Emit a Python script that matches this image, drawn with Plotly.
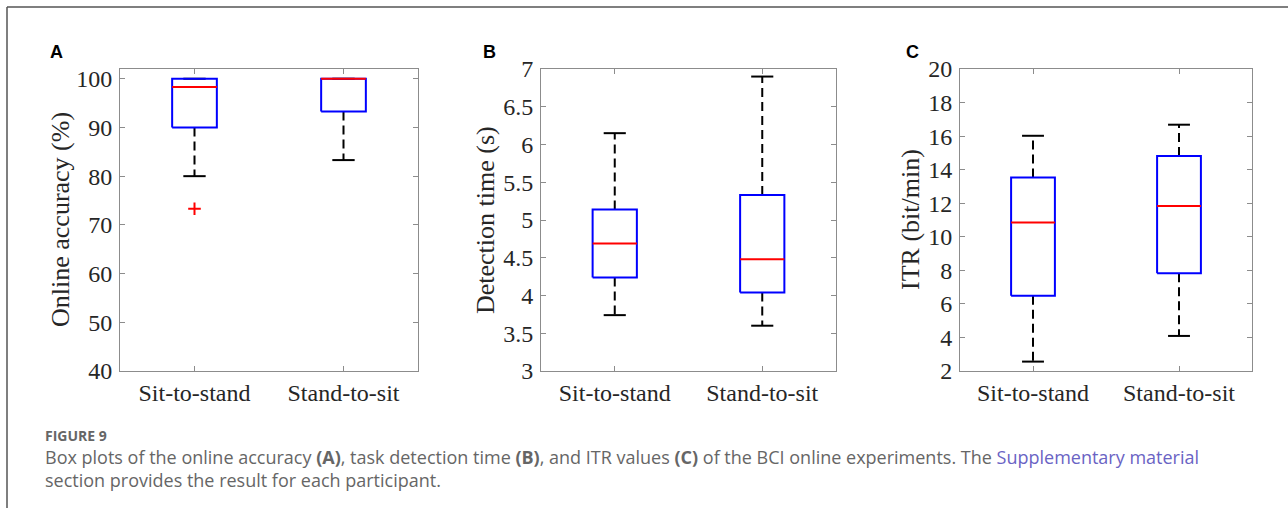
import plotly.graph_objects as go

# ---------------- data ----------------
categories = ["Sit-to-stand", "Stand-to-sit"]

acc_lower = [80.0, 83.3]
acc_q1 = [90.0, 93.3]
acc_median = [98.3, 100.0]
acc_q3 = [100.0, 100.0]
acc_upper = [100.0, 100.0]
acc_outliers = [[73.3], []]
acc_ticks = [40, 50, 60, 70, 80, 90, 100]

time_lower = [3.74, 3.60]
time_q1 = [4.24, 4.04]
time_median = [4.69, 4.48]
time_q3 = [5.14, 5.33]
time_upper = [6.15, 6.90]
time_outliers = [[], []]
time_ticks = [3, 3.5, 4, 4.5, 5, 5.5, 6, 6.5, 7]

itr_lower = [2.56, 4.09]
itr_q1 = [6.48, 7.83]
itr_median = [10.85, 11.83]
itr_q3 = [13.54, 14.81]
itr_upper = [16.02, 16.68]
itr_outliers = [[], []]
itr_ticks = [2, 4, 6, 8, 10, 12, 14, 16, 18, 20]

panel_letters = ["A", "B", "C"]
axis_titles = ["Online accuracy (%)", "Detection time (s)", "ITR (bit/min)"]

# ---------------- layout constants ----------------
W, H = 1288, 516
BOX_HALF = 0.15
CAP_HALF = 0.075
AXIS_GRAY = "#8c8c8c"
TEXT_DARK = "#262626"
SERIF = "Liberation Serif"

panels = [
    dict(lower=acc_lower, q1=acc_q1, med=acc_median, q3=acc_q3, upper=acc_upper,
         out=acc_outliers, ticks=acc_ticks, yr=[40, 102], px=(120, 418),
         title_x=60, letter_x=56),
    dict(lower=time_lower, q1=time_q1, med=time_median, q3=time_q3, upper=time_upper,
         out=time_outliers, ticks=time_ticks, yr=[3, 7], px=(541, 836),
         title_x=485, letter_x=489),
    dict(lower=itr_lower, q1=itr_q1, med=itr_median, q3=itr_q3, upper=itr_upper,
         out=itr_outliers, ticks=itr_ticks, yr=[2, 20], px=(960, 1252),
         title_x=910, letter_x=912),
]

TOP_PX, BOT_PX = 69, 371
ydom = [1 - BOT_PX / H, 1 - TOP_PX / H]

fig = go.Figure()
annotations = []

for k, p in enumerate(panels):
    xa = "x" if k == 0 else f"x{k+1}"
    ya = "y" if k == 0 else f"y{k+1}"
    pos = list(range(1, len(categories) + 1))

    # whiskers (dashed)
    wx, wy = [], []
    for i, c in enumerate(pos):
        if p["upper"][i] > p["q3"][i]:
            wx += [c, c, None]
            wy += [p["q3"][i], p["upper"][i], None]
        if p["lower"][i] < p["q1"][i]:
            wx += [c, c, None]
            wy += [p["q1"][i], p["lower"][i], None]
    fig.add_trace(go.Scatter(x=wx, y=wy, mode="lines", xaxis=xa, yaxis=ya,
                             line=dict(color="black", width=2, dash="9px,5px"),
                             hoverinfo="skip", showlegend=False))
    # caps
    cx, cy = [], []
    for i, c in enumerate(pos):
        for v in (p["upper"][i], p["lower"][i]):
            cx += [c - CAP_HALF, c + CAP_HALF, None]
            cy += [v, v, None]
    fig.add_trace(go.Scatter(x=cx, y=cy, mode="lines", xaxis=xa, yaxis=ya,
                             line=dict(color="black", width=2),
                             hoverinfo="skip", showlegend=False))
    # boxes
    bx, by = [], []
    for i, c in enumerate(pos):
        bx += [c - BOX_HALF, c + BOX_HALF, c + BOX_HALF, c - BOX_HALF, c - BOX_HALF, None]
        by += [p["q1"][i], p["q1"][i], p["q3"][i], p["q3"][i], p["q1"][i], None]
    fig.add_trace(go.Scatter(x=bx, y=by, mode="lines", xaxis=xa, yaxis=ya,
                             line=dict(color="#0000ff", width=2),
                             hoverinfo="skip", showlegend=False))
    # medians
    mx, my = [], []
    for i, c in enumerate(pos):
        mx += [c - BOX_HALF, c + BOX_HALF, None]
        my += [p["med"][i], p["med"][i], None]
    fig.add_trace(go.Scatter(x=mx, y=my, mode="lines", xaxis=xa, yaxis=ya,
                             line=dict(color="#ff0000", width=2),
                             hoverinfo="skip", showlegend=False))
    # outliers
    ox, oy = [], []
    for i, c in enumerate(pos):
        for v in p["out"][i]:
            ox.append(c)
            oy.append(v)
    if ox:
        fig.add_trace(go.Scatter(x=ox, y=oy, mode="markers", xaxis=xa, yaxis=ya,
                                 marker=dict(symbol="cross-thin-open", size=9,
                                             color="#ff0000",
                                             line=dict(color="#ff0000", width=2)),
                                 hoverinfo="skip", showlegend=False))

    xdom = [p["px"][0] / W, p["px"][1] / W]
    axis_common = dict(showline=True, linecolor=AXIS_GRAY, linewidth=1,
                       mirror="ticks", ticks="inside", ticklen=5, tickwidth=1,
                       tickcolor=AXIS_GRAY, showgrid=False, zeroline=False,
                       automargin=False,
                       tickfont=dict(family=SERIF, size=24, color=TEXT_DARK))
    fig.update_layout(**{
        ("xaxis" if k == 0 else f"xaxis{k+1}"): dict(
            domain=xdom, range=[0.5, len(categories) + 0.5], anchor=ya,
            tickmode="array", tickvals=pos, ticktext=categories,
            ticklabelstandoff=0, **axis_common),
        ("yaxis" if k == 0 else f"yaxis{k+1}"): dict(
            domain=ydom, range=p["yr"], anchor=xa,
            tickmode="array", tickvals=p["ticks"],
            ticktext=[f"{t:g}" for t in p["ticks"]],
            ticklabelstandoff=2, **axis_common),
    })

    annotations.append(dict(text=axis_titles[k], xref="paper", yref="paper",
                            x=p["title_x"] / W, y=1 - 220 / H, textangle=-90,
                            showarrow=False, xanchor="center", yanchor="middle",
                            font=dict(family=SERIF, size=26, color=TEXT_DARK)))
    annotations.append(dict(text=f"<b>{panel_letters[k]}</b>", xref="paper", yref="paper",
                            x=p["letter_x"] / W, y=1 - 52 / H, showarrow=False,
                            xanchor="center", yanchor="middle",
                            font=dict(family="Liberation Sans", size=18, color="black")))

# caption
CAP_GRAY = "#666666"
LINK = "#6a63c4"
annotations.append(dict(text="<b>FIGURE 9</b>", xref="paper", yref="paper",
                        x=43 / W, y=1 - 435 / H, xanchor="left", yanchor="middle",
                        showarrow=False,
                        font=dict(family="Open Sans", size=14, color="#666666")))
annotations.append(dict(
    text=("Box plots of the online accuracy <b>(A)</b>, task detection time <b>(B)</b>, "
          "and ITR values <b>(C)</b> of the BCI online experiments. The "
          f"<span style='color:{LINK}'>Supplementary material</span>"),
    xref="paper", yref="paper", x=43 / W, y=1 - 457 / H, xanchor="left",
    yanchor="middle", showarrow=False,
    font=dict(family="Open Sans", size=18, color=CAP_GRAY)))
annotations.append(dict(
    text="section provides the result for each participant.",
    xref="paper", yref="paper", x=43 / W, y=1 - 480 / H, xanchor="left",
    yanchor="middle", showarrow=False,
    font=dict(family="Open Sans", size=18, color=CAP_GRAY)))

shapes = [
    dict(type="line", xref="paper", yref="paper", x0=7 / W, x1=1, y0=1 - 7 / H, y1=1 - 7 / H,
         line=dict(color="#555555", width=1.5)),
    dict(type="line", xref="paper", yref="paper", x0=7 / W, x1=7 / W, y0=1 - 7 / H, y1=1 - 508 / H,
         line=dict(color="#555555", width=1.5)),
]

fig.update_layout(width=W, height=H, margin=dict(l=0, r=0, t=0, b=0, pad=0),
                  paper_bgcolor="white", plot_bgcolor="white",
                  annotations=annotations, shapes=shapes, showlegend=False)

fig.write_html("out.html")
